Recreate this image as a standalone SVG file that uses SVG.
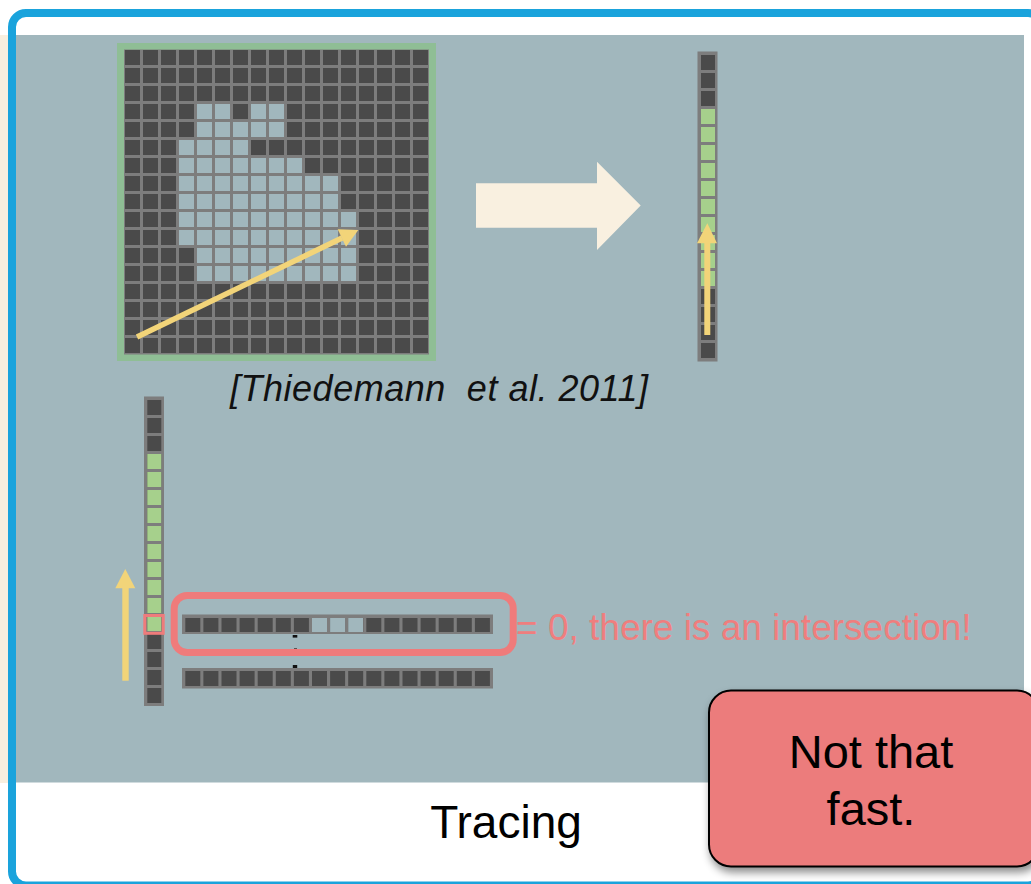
<svg xmlns="http://www.w3.org/2000/svg" width="1031" height="884" viewBox="0 0 1031 884">
  <defs>
    <style>
      .gray{fill:#7d7d7d}
      .dk{fill:none;stroke:#4a4a4a;stroke-dasharray:15 3}
      .lt{fill:none;stroke:#a1b7bd;stroke-dasharray:15 3}
      .gr{fill:none;stroke:#a6d08c;stroke-dasharray:15 3}
      .yel{fill:#f2d479}
      .txt{font-family:"Liberation Sans",Arial,Helvetica,sans-serif}
    </style>
    <filter id="shadow" x="-10%" y="-10%" width="130%" height="140%">
      <feDropShadow dx="2" dy="5" stdDeviation="4" flood-color="#000" flood-opacity="0.45"/>
    </filter>
  </defs>

  <rect x="0" y="0" width="1031" height="884" fill="#ffffff"/>
  <rect x="0" y="35" width="10" height="748" fill="#f8efdf"/>
  <rect id="frame" x="12" y="13" width="1030" height="872.5" rx="14" fill="#ffffff" stroke="#1aa3dc" stroke-width="8"/>
  <rect id="panel" x="16" y="35" width="1008" height="747.5" fill="#a1b7bd"/>

  <g id="grid">
    <rect x="117" y="43" width="319" height="318" fill="#8fbe95"/>
    <rect class="gray" x="124" y="49.5" width="305" height="305"/>
    <path class="dk" stroke-width="15" d="M125 57.5H428M125 75.5H428M125 93.5H428M125 111.5H428M125 129.5H428M125 147.5H428M125 165.5H428M125 183.5H428M125 201.5H428M125 219.5H428M125 237.5H428M125 255.5H428M125 273.5H428M125 291.5H428M125 309.5H428M125 327.5H428M125 345.5H428"/>
    <path class="lt" stroke-width="15" d="M197 111.5H230M251 111.5H284M197 129.5H284M179 147.5H248M179 165.5H302M179 183.5H338M179 201.5H338M179 219.5H356M179 237.5H356M197 255.5H356M197 273.5H356"/>
    <path d="M137 337L342 238" stroke="#f2d479" stroke-width="5.5" fill="none"/>
    <polygon class="yel" points="337.7,229.3 358.3,230 346,246.7"/>
  </g>

  <g id="big-arrow">
    <polygon fill="#f9f0e0" points="476,183.3 597,183.3 597,161.7 640.7,205.5 597,250 597,227.7 476,227.7"/>
  </g>

  <g id="right-column">
    <rect class="gray" x="697.5" y="51.5" width="20" height="310"/>
    <path class="dk" stroke-width="14" d="M708 55V358"/>
    <path class="gr" stroke-width="14" d="M708 109V286"/>
    <rect class="yel" x="704.3" y="242" width="6" height="93"/>
    <polygon class="yel" points="697,243.3 717,243.3 707.3,223.3"/>
  </g>

  <text id="citation" class="txt" x="230" y="401" font-size="36" font-style="italic" fill="#111" textLength="418" lengthAdjust="spacing" xml:space="preserve">[Thiedemann  et al. 2011]</text>

  <g id="left-column">
    <rect class="gray" x="144" y="396.5" width="20" height="309.5"/>
    <path class="dk" stroke-width="14" d="M154.3 400V703"/>
    <path class="gr" stroke-width="14" d="M154.3 454V631"/>
    <rect x="144.8" y="615.5" width="18.4" height="17.8" fill="none" stroke="#ef7b7b" stroke-width="3"/>
    <rect class="yel" x="122.3" y="587" width="6.4" height="93.7"/>
    <polygon class="yel" points="115.3,588.3 135.3,588.3 125.3,569"/>
  </g>

  <g id="row-1">
    <rect class="gray" x="182" y="614.5" width="311" height="19.5"/>
    <path class="dk" stroke-width="14" style="stroke-dasharray:15 3.1" d="M185.3 625H490"/>
    <path class="lt" stroke-width="14" style="stroke-dasharray:15 3.1" d="M312 625H363"/>
  </g>

  <g id="dots">
    <rect x="292.7" y="635" width="4.6" height="2.6" fill="#111"/>
    <rect x="294" y="648" width="3" height="1.2" fill="#555"/>
    <rect x="292.8" y="665" width="4.4" height="4.4" fill="#111"/>
  </g>

  <g id="row-2">
    <rect class="gray" x="182" y="668" width="311" height="20.5"/>
    <path class="dk" stroke-width="15" style="stroke-dasharray:15 3.1" d="M185.3 678.5H490"/>
  </g>

  <g id="intersection">
    <rect x="174.2" y="595.5" width="339" height="57" rx="13" fill="none" stroke="#ef7b7b" stroke-width="7"/>
    <text class="txt" x="516" y="640" font-size="37" fill="#ef7e7e">= 0, there is an intersection!</text>
  </g>

  <text id="title" class="txt" x="506" y="838" font-size="46" text-anchor="middle" fill="#000">Tracing</text>

  <g id="callout">
    <rect x="709" y="690.5" width="330" height="176" rx="22" fill="#ec7b7b" stroke="#000" stroke-width="2" filter="url(#shadow)"/>
    <text class="txt" x="871" y="768" font-size="47" text-anchor="middle" fill="#000">Not that</text>
    <text class="txt" x="871" y="825" font-size="47" text-anchor="middle" fill="#000">fast.</text>
  </g>
</svg>
